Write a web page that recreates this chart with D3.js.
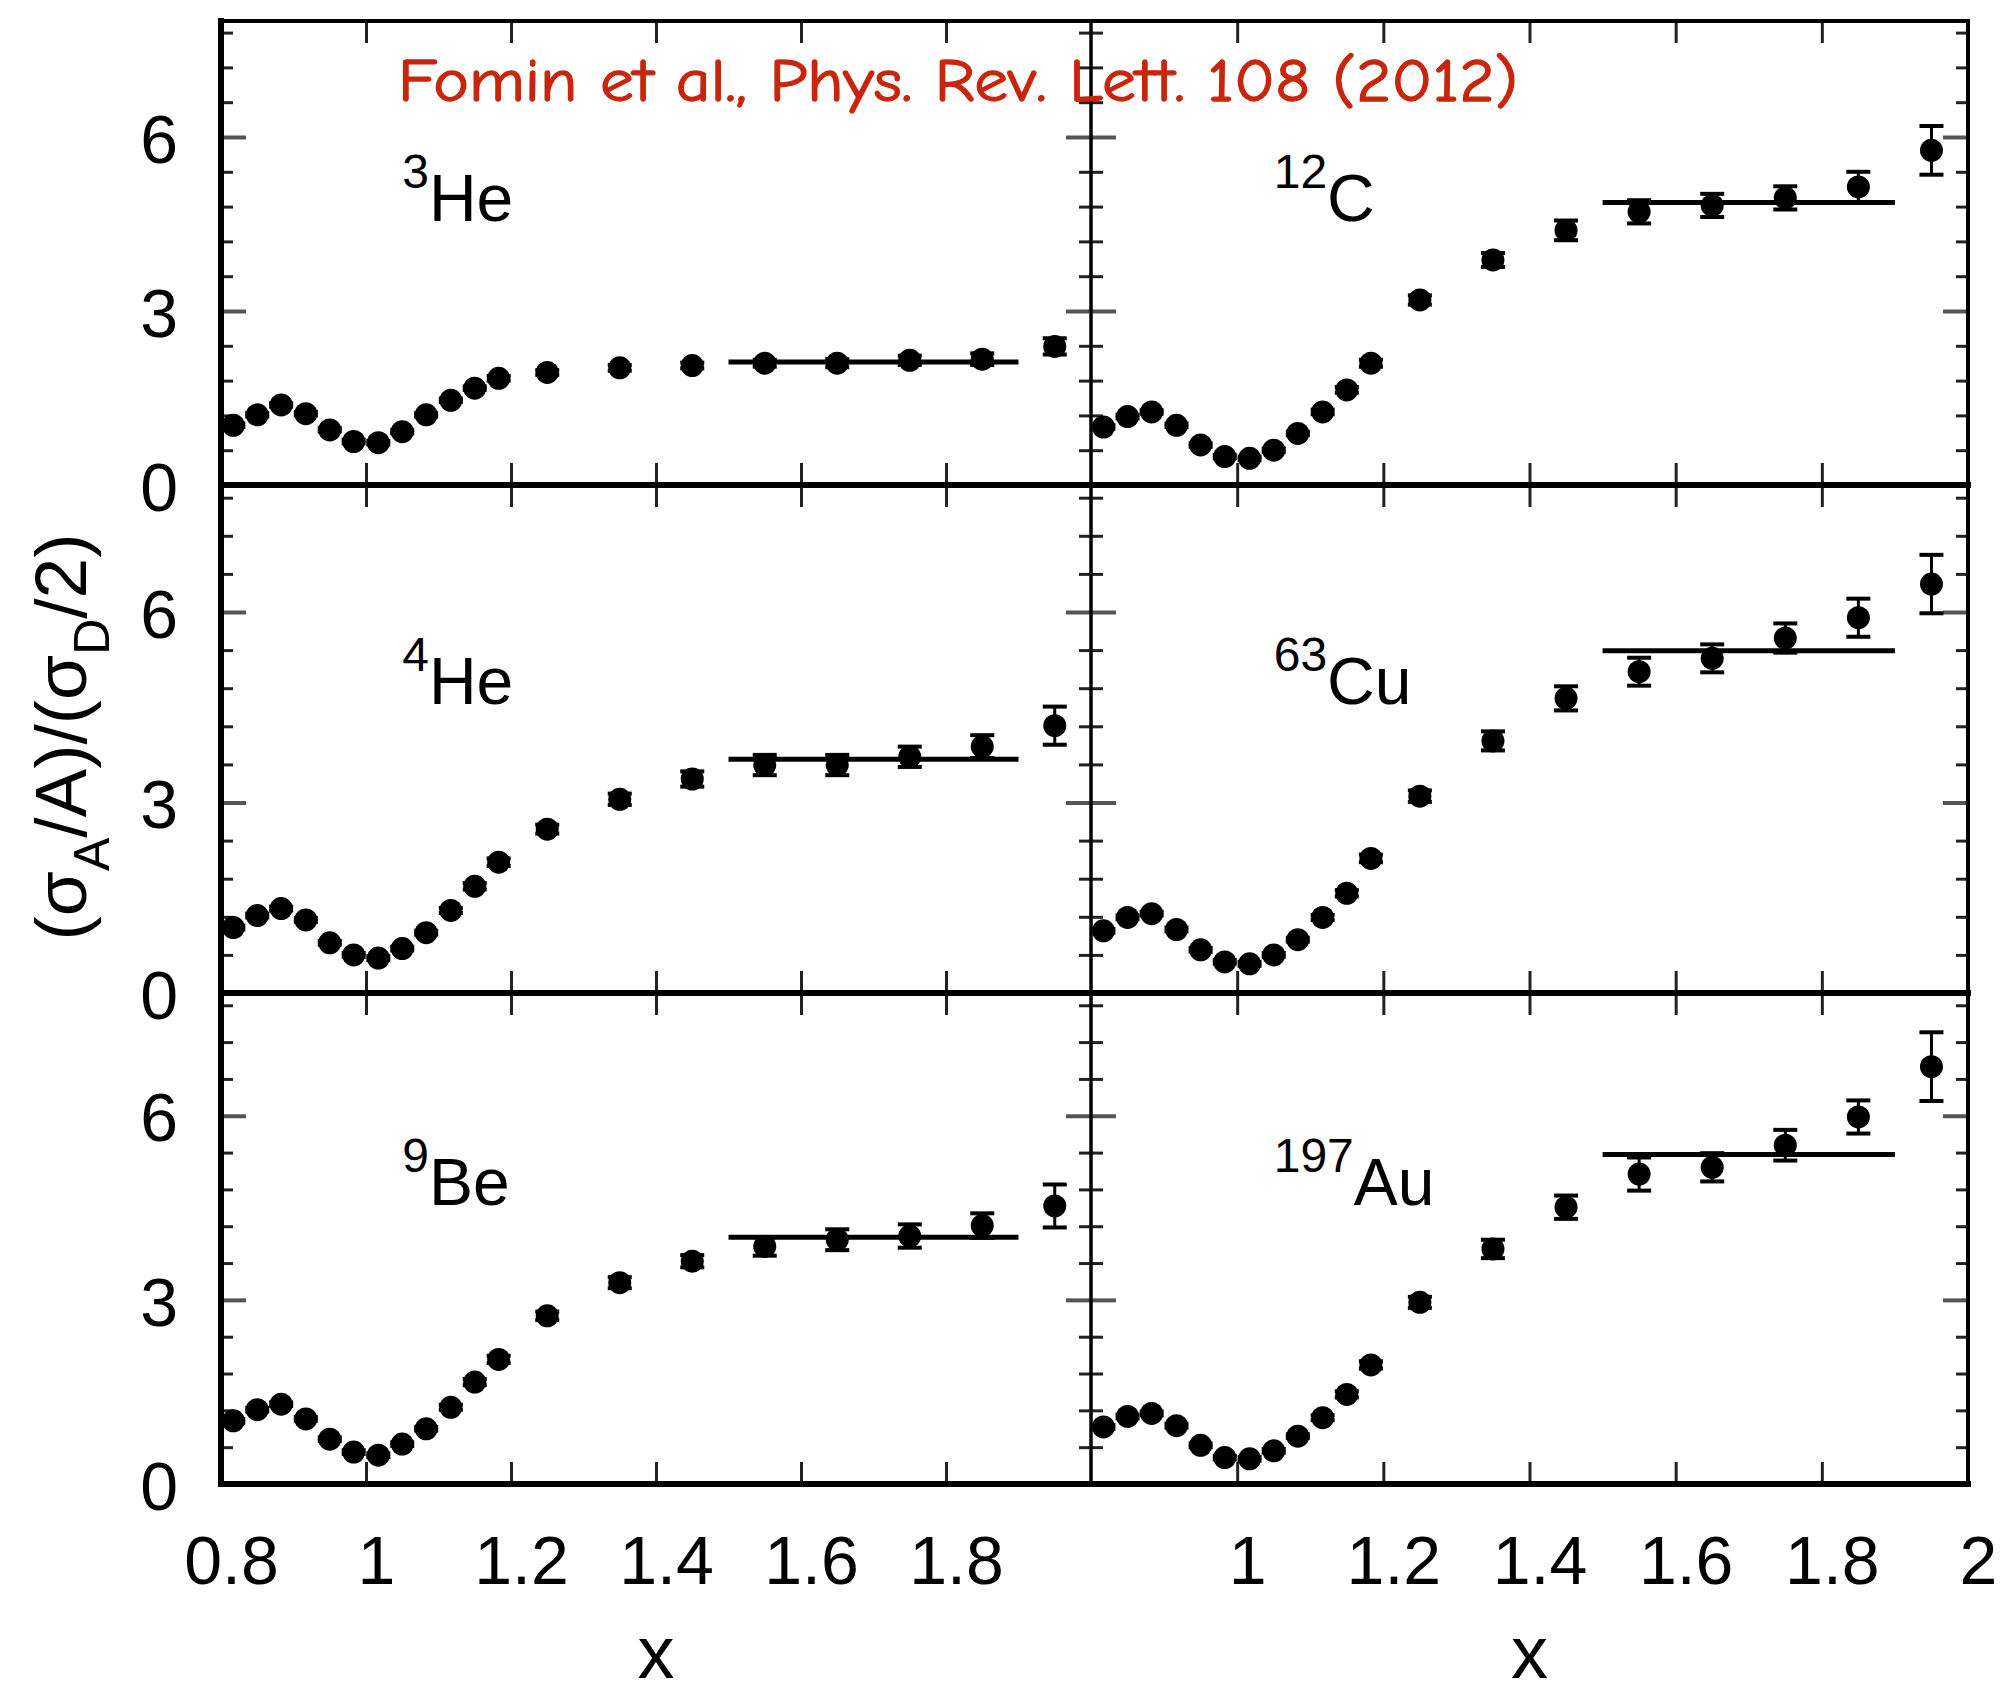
<!DOCTYPE html>
<html>
<head>
<meta charset="utf-8">
<script src="https://cdn.jsdelivr.net/npm/d3@7"></script>
<style>
  body { margin: 0; background: #fff; }
  svg { display: block; }
</style>
</head>
<body>
<svg id="chart" width="2003" height="1697"></svg>
<script>
// Bin centres in x (Bjorken x)
const xBins = [0.817, 0.850, 0.883, 0.917, 0.950, 0.983, 1.017, 1.050, 1.083, 1.117,
               1.150, 1.183, 1.25, 1.35, 1.45, 1.55, 1.65, 1.75, 1.85, 1.95];

// Per-nucleon cross-section ratios to the deuteron, with uncertainties
const he3Ratio = [1.03, 1.21, 1.38, 1.23, 0.95, 0.75, 0.73, 0.92, 1.21, 1.46, 1.67, 1.84, 1.94, 2.02, 2.06, 2.10, 2.10, 2.15, 2.17, 2.39];
const he3Err   = [0.03, 0.03, 0.03, 0.03, 0.03, 0.03, 0.03, 0.03, 0.03, 0.03, 0.03, 0.04, 0.04, 0.05, 0.05, 0.06, 0.07, 0.08, 0.10, 0.14];

const c12Ratio = [1.00, 1.18, 1.26, 1.03, 0.69, 0.49, 0.46, 0.60, 0.89, 1.26, 1.64, 2.10, 3.19, 3.88, 4.39, 4.71, 4.82, 4.95, 5.14, 5.77];
const c12Err   = [0.03, 0.03, 0.03, 0.03, 0.03, 0.03, 0.03, 0.03, 0.03, 0.04, 0.05, 0.06, 0.08, 0.12, 0.17, 0.20, 0.20, 0.20, 0.26, 0.42];

const he4Ratio = [1.03, 1.22, 1.33, 1.15, 0.79, 0.60, 0.55, 0.70, 0.95, 1.30, 1.68, 2.06, 2.58, 3.05, 3.37, 3.59, 3.59, 3.72, 3.88, 4.21];
const he4Err   = [0.03, 0.03, 0.03, 0.03, 0.03, 0.03, 0.03, 0.03, 0.03, 0.04, 0.05, 0.06, 0.07, 0.09, 0.12, 0.16, 0.16, 0.16, 0.18, 0.30];

const cu63Ratio = [0.98, 1.19, 1.25, 1.00, 0.68, 0.49, 0.46, 0.60, 0.84, 1.19, 1.57, 2.12, 3.10, 3.97, 4.64, 5.06, 5.27, 5.59, 5.91, 6.44];
const cu63Err   = [0.03, 0.03, 0.03, 0.03, 0.03, 0.03, 0.03, 0.03, 0.03, 0.04, 0.05, 0.06, 0.09, 0.15, 0.19, 0.22, 0.22, 0.23, 0.30, 0.46];

const be9Ratio = [1.03, 1.21, 1.30, 1.06, 0.73, 0.52, 0.47, 0.65, 0.90, 1.25, 1.66, 2.03, 2.74, 3.28, 3.63, 3.87, 3.98, 4.04, 4.21, 4.53];
const be9Err   = [0.03, 0.03, 0.03, 0.03, 0.03, 0.03, 0.03, 0.03, 0.03, 0.04, 0.05, 0.06, 0.07, 0.09, 0.10, 0.15, 0.17, 0.19, 0.20, 0.35];

const au197Ratio = [0.93, 1.10, 1.15, 0.95, 0.63, 0.43, 0.41, 0.54, 0.78, 1.08, 1.46, 1.94, 2.96, 3.83, 4.51, 5.05, 5.16, 5.52, 5.98, 6.80];
const au197Err   = [0.03, 0.03, 0.03, 0.03, 0.03, 0.03, 0.03, 0.03, 0.03, 0.04, 0.05, 0.06, 0.09, 0.15, 0.19, 0.27, 0.23, 0.25, 0.27, 0.56];

// Panel labels (row-major: left column, right column)
const massNumbers = ["3", "12", "4", "63", "9", "197"];
const symbols     = ["He", "C", "He", "Cu", "Be", "Au"];

// Plateau fits over 1.5 < x < 1.9
const plateauLevels = [2.12, 4.87, 3.68, 5.39, 4.02, 5.37];
const plateauRange  = [1.5, 1.9];

// Axis ticks
const xDomain = [0.8, 2.0];
const yDomain = [0, 8];
const xTickValues  = [1.0, 1.2, 1.4, 1.6, 1.8];
const leftXLabels  = [0.8, 1.0, 1.2, 1.4, 1.6, 1.8];
const rightXLabels = [1.0, 1.2, 1.4, 1.6, 1.8, 2.0];
const yMajorTicks  = [0, 3, 6];
const yMinorTicks  = [0.6, 1.2, 1.8, 2.4, 3.6, 4.2, 4.8, 5.4, 6.6, 7.2, 7.8];

const titleText = "Fomin et al., Phys. Rev. Lett. 108 (2012)";

const ratios = [he3Ratio, c12Ratio, he4Ratio, cu63Ratio, be9Ratio, au197Ratio];
const errors = [he3Err, c12Err, he4Err, cu63Err, be9Err, au197Err];

// ---- layout ----
const colEdges = [221, 1091, 1968];
const rowEdges = [21, 485, 993, 1484];
const FONT = "'Liberation Sans', Arial, Helvetica, sans-serif";

const svg = d3.select("#chart");
svg.append("rect").attr("width", 2003).attr("height", 1697).attr("fill", "#fff");

const gTicks = svg.append("g");
const gFrame = svg.append("g");
const gData  = svg.append("g");
const gText  = svg.append("g").attr("font-family", FONT).attr("fill", "#000");

function styleTicks(sel, color, width) {
  sel.select(".domain").remove();
  sel.selectAll(".tick line").attr("stroke", color).attr("stroke-width", width);
}

ratios.forEach((vals, i) => {
  const r = Math.floor(i / 2), c = i % 2;
  const x = d3.scaleLinear().domain(xDomain).range([colEdges[c], colEdges[c + 1]]);
  const y = d3.scaleLinear().domain(yDomain).range([rowEdges[r + 1], rowEdges[r]]);
  const errs = errors[i];

  // inward ticks on all four sides
  gTicks.append("g").attr("transform", `translate(0,${y(0)})`)
    .call(d3.axisBottom(x).tickValues(xTickValues).tickSize(-22).tickFormat(""))
    .call(s => styleTicks(s, "#222", 3));
  gTicks.append("g").attr("transform", `translate(0,${y(8)})`)
    .call(d3.axisTop(x).tickValues(xTickValues).tickSize(-22).tickFormat(""))
    .call(s => styleTicks(s, "#222", 3));
  gTicks.append("g").attr("transform", `translate(${x(0.8)},0)`)
    .call(d3.axisLeft(y).tickValues(yMajorTicks).tickSize(-25).tickFormat(""))
    .call(s => styleTicks(s, "#555", 4));
  gTicks.append("g").attr("transform", `translate(${x(0.8)},0)`)
    .call(d3.axisLeft(y).tickValues(yMinorTicks).tickSize(-12).tickFormat(""))
    .call(s => styleTicks(s, "#222", 3));
  gTicks.append("g").attr("transform", `translate(${x(2.0)},0)`)
    .call(d3.axisRight(y).tickValues(yMajorTicks).tickSize(-25).tickFormat(""))
    .call(s => styleTicks(s, "#555", 4));
  gTicks.append("g").attr("transform", `translate(${x(2.0)},0)`)
    .call(d3.axisRight(y).tickValues(yMinorTicks).tickSize(-12).tickFormat(""))
    .call(s => styleTicks(s, "#222", 3));

  // y tick labels on the left column
  if (c === 0) {
    gText.append("g").attr("transform", `translate(${x(0.8)},0)`)
      .call(d3.axisLeft(y).tickValues(yMajorTicks).tickSize(0).tickPadding(43).tickFormat(d3.format("d")))
      .call(s => s.select(".domain").remove())
      .call(s => s.selectAll("text").attr("font-family", FONT).attr("font-size", 68)
        .attr("fill", "#000").attr("dy", "0.37em"));
  }

  // x tick labels along the bottom row
  if (r === 2) {
    const labels = c === 0 ? leftXLabels : rightXLabels;
    gText.append("g").attr("transform", `translate(0,${y(0)})`)
      .call(d3.axisBottom(x).tickValues(labels).tickSize(0).tickPadding(52).tickFormat(d => String(d)))
      .call(s => s.select(".domain").remove())
      .call(s => s.selectAll("text").attr("font-family", FONT).attr("font-size", 68)
        .attr("fill", "#000").attr("dx", 10));
    gText.append("text")
      .attr("x", (x(0.8) + x(2.0)) / 2).attr("y", 1678)
      .attr("text-anchor", "middle").attr("font-size", 74).text("x");
  }

  // plateau line
  gData.append("line")
    .attr("x1", x(plateauRange[0])).attr("x2", x(plateauRange[1]))
    .attr("y1", y(plateauLevels[i])).attr("y2", y(plateauLevels[i]))
    .attr("stroke", "#000").attr("stroke-width", 5);

  // error bars with caps
  const pts = xBins.map((xv, k) => ({ xv, v: vals[k], e: errs[k] }));
  const eb = gData.append("g").selectAll("g").data(pts).join("g");
  eb.append("line")
    .attr("x1", d => x(d.xv)).attr("x2", d => x(d.xv))
    .attr("y1", d => y(d.v - d.e)).attr("y2", d => y(d.v + d.e))
    .attr("stroke", "#000").attr("stroke-width", 3);
  [-1, 1].forEach(sgn => {
    eb.append("line")
      .attr("x1", d => x(d.xv) - 12).attr("x2", d => x(d.xv) + 12)
      .attr("y1", d => y(d.v + sgn * d.e)).attr("y2", d => y(d.v + sgn * d.e))
      .attr("stroke", "#000").attr("stroke-width", 4);
  });
  gData.append("g").selectAll("circle").data(pts).join("circle")
    .attr("cx", d => x(d.xv)).attr("cy", d => y(d.v)).attr("r", 11.5).attr("fill", "#000");

  // nucleus label with superscript mass number
  const lab = gText.append("text")
    .attr("x", x(1.05)).attr("y", y(4.55)).attr("font-size", 66);
  lab.append("tspan").attr("font-size", 48).attr("dy", -33).text(massNumbers[i]);
  lab.append("tspan").attr("dy", 33).text(symbols[i]);
});

// frame lines
const frame = [
  { x1: colEdges[0], y1: rowEdges[0], x2: colEdges[0], y2: rowEdges[3], w: 6 },
  { x1: colEdges[2], y1: rowEdges[0], x2: colEdges[2], y2: rowEdges[3], w: 4 },
  { x1: colEdges[1], y1: rowEdges[0], x2: colEdges[1], y2: rowEdges[3], w: 3.5 },
  { x1: colEdges[0], y1: rowEdges[0], x2: colEdges[2], y2: rowEdges[0], w: 4 },
  { x1: colEdges[0], y1: rowEdges[1], x2: colEdges[2], y2: rowEdges[1], w: 6 },
  { x1: colEdges[0], y1: rowEdges[2], x2: colEdges[2], y2: rowEdges[2], w: 6 },
  { x1: colEdges[0], y1: rowEdges[3], x2: colEdges[2], y2: rowEdges[3], w: 6 }
];
gFrame.selectAll("line").data(frame).join("line")
  .attr("x1", d => d.x1).attr("y1", d => d.y1).attr("x2", d => d.x2).attr("y2", d => d.y2)
  .attr("stroke", "#000").attr("stroke-width", d => d.w).attr("stroke-linecap", "square");

// y-axis title: (σA/A)/(σD/2)
const yTitle = gText.append("text")
  .attr("transform", "translate(86,737) rotate(-90)")
  .attr("text-anchor", "middle").attr("font-size", 73);
[["(σ", 0], ["A", 1], ["/A)/(σ", 0], ["D", 1], ["/2)", 0]].forEach(([t, sub], k, arr) => {
  const prevSub = k > 0 ? arr[k - 1][1] : 0;
  const dy = (sub - prevSub) * 23;
  const ts = yTitle.append("tspan").text(t);
  if (dy) ts.attr("dy", dy);
  if (sub) ts.attr("font-size", 50);
});

// citation
svg.append("text")
  .attr("x", 398).attr("y", 101)
  .attr("font-family", "'Comic Sans MS', 'Comic Neue', Chalkboard, 'Noto Sans', sans-serif")
  .attr("font-size", 60).attr("fill", "#c8260c")
  .attr("stroke", "#c8260c").attr("stroke-width", 1.3)
  .attr("textLength", 1120).attr("lengthAdjust", "spacingAndGlyphs")
  .text(titleText);
</script>
</body>
</html>
